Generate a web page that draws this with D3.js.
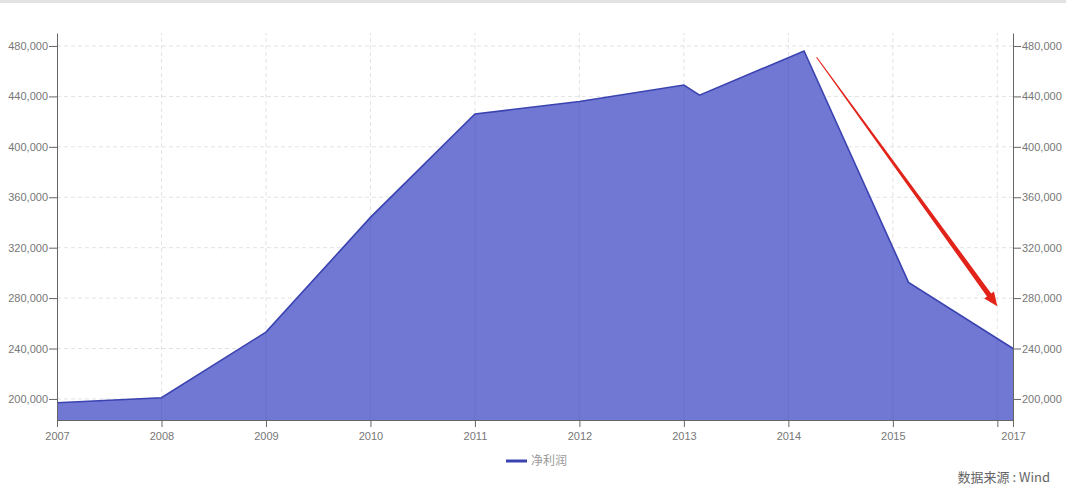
<!DOCTYPE html>
<html><head><meta charset="utf-8">
<script src="https://cdn.jsdelivr.net/npm/d3@7"></script>
<style>
html,body{margin:0;padding:0;background:#fff;}
svg{display:block;font-family:"Liberation Sans",Arial,sans-serif;}
</style></head>
<body>
<script>
// ---- data ----
const years = [2007, 2008, 2009, 2010, 2011, 2012, 2013, 2013.15, 2014.15, 2015.15, 2016.15];
const netProfit = [197000, 201000, 253000, 344000, 426000, 436000, 449000, 441000, 476000, 292500, 240000];
const seriesName = "净利润";
const yTicks = [200000, 240000, 280000, 320000, 360000, 400000, 440000, 480000];
const xTickValues = [2007, 2008, 2009, 2010, 2011, 2012, 2013, 2014, 2015, 2016, 2016.15];
const xTickLabels = ["2007", "2008", "2009", "2010", "2011", "2012", "2013", "2014", "2015", "", "2017"];
const gridYears = [2008, 2009, 2010, 2011, 2012, 2013, 2014, 2015, 2016];
const arrowFrom = [2014.27, 471000];
const arrowTo = [2016.0, 273500];
const sourceText = "数据来源 : Wind";

const W = 1066, H = 488;
const svg = d3.select("body").append("svg").attr("width", W).attr("height", H);

svg.append("rect").attr("x", 0).attr("y", 0).attr("width", W).attr("height", 3).attr("fill", "#e2e2e2");

const x = d3.scaleLinear().domain([2007, 2016.15]).range([57, 1013]);
const y = d3.scaleLinear().domain([183300, 490300]).range([420, 33]);

// grid
const grid = svg.append("g");
grid.selectAll("line.h").data(yTicks).join("line")
  .attr("x1", x.range()[0]).attr("x2", x.range()[1])
  .attr("y1", d => y(d)).attr("y2", d => y(d))
  .attr("stroke", "#e3e3e3").attr("stroke-dasharray", "4,3");
grid.selectAll("line.v").data(gridYears).join("line")
  .attr("x1", d => x(d)).attr("x2", d => x(d))
  .attr("y1", y.range()[0]).attr("y2", y.range()[1])
  .attr("stroke", "#e3e3e3").attr("stroke-dasharray", "4,3");

const pts = years.map((yr, i) => ({ x: yr, v: netProfit[i] }));

const area = d3.area().x(d => x(d.x)).y0(y.range()[0]).y1(d => y(d.v));
svg.append("path").datum(pts).attr("d", area).attr("fill", "#7078d4");

// faint grid lines visible through the fill (clipped to the area)
svg.append("clipPath").attr("id", "areaClip").append("path").datum(pts).attr("d", area);
svg.append("g").attr("clip-path", "url(#areaClip)")
  .selectAll("line").data(gridYears).join("line")
  .attr("x1", d => x(d)).attr("x2", d => x(d))
  .attr("y1", y.range()[0]).attr("y2", y.range()[1])
  .attr("stroke", "#3a3f80").attr("stroke-opacity", 0.12);

const line = d3.line().x(d => x(d.x)).y(d => y(d.v));
svg.append("path").datum(pts).attr("d", line).attr("fill", "none")
  .attr("stroke", "#3a43b0").attr("stroke-width", 1.6).attr("stroke-linejoin", "miter");

// axes
const fmt = d3.format(",");
function styleAxis(g) {
  g.selectAll("path.domain").attr("stroke", "#666");
  g.selectAll(".tick line").attr("stroke", "#666");
  g.selectAll("text").attr("fill", "#777").attr("font-size", 11)
    .attr("font-family", "'Liberation Sans', Arial, sans-serif");
}
const yl = svg.append("g").attr("transform", `translate(${x.range()[0]},0)`)
  .call(d3.axisLeft(y).tickValues(yTicks).tickFormat(fmt).tickSize(8).tickPadding(1).tickSizeOuter(0));
styleAxis(yl);
const yr = svg.append("g").attr("transform", `translate(${x.range()[1]},0)`)
  .call(d3.axisRight(y).tickValues(yTicks).tickFormat(fmt).tickSize(8).tickPadding(1).tickSizeOuter(0));
styleAxis(yr);
const xa = svg.append("g").attr("transform", `translate(0,${y.range()[0]})`)
  .call(d3.axisBottom(x).tickValues(xTickValues).tickFormat((d, i) => xTickLabels[i]).tickSize(7).tickPadding(5).tickSizeOuter(0));
styleAxis(xa);

// red arrow annotation (tapered)
const p0 = [x(arrowFrom[0]), y(arrowFrom[1])];
const p1 = [x(arrowTo[0]), y(arrowTo[1])];
const dx = p1[0] - p0[0], dy = p1[1] - p0[1];
const len = Math.hypot(dx, dy);
const ux = dx / len, uy = dy / len, nx = -uy, ny = ux;
const headLen = 14, headW = 6, w0 = 0.5, w1 = 2.6;
const b = [p1[0] - ux * headLen, p1[1] - uy * headLen];
const poly = [
  [p0[0] + nx * w0, p0[1] + ny * w0],
  [b[0] + nx * w1, b[1] + ny * w1],
  [b[0] + nx * headW, b[1] + ny * headW],
  p1,
  [b[0] - nx * headW, b[1] - ny * headW],
  [b[0] - nx * w1, b[1] - ny * w1],
  [p0[0] - nx * w0, p0[1] - ny * w0]
];
svg.append("path").attr("d", d3.line()(poly) + "Z").attr("fill", "#e2231a");

// legend
const lg = svg.append("g").attr("transform", "translate(506,461)");
lg.append("line").attr("x1", 0).attr("x2", 21).attr("y1", 0).attr("y2", 0)
  .attr("stroke", "#3a43b0").attr("stroke-width", 3);
lg.append("text").attr("x", 25).attr("y", 0).attr("dy", "0.35em").text(seriesName)
  .attr("font-size", 12).attr("fill", "#999").attr("font-family", "'Noto Sans CJK SC', sans-serif");

// source
svg.append("text").attr("x", 1050).attr("y", 477).attr("dy", "0.35em").attr("text-anchor", "end")
  .attr("font-size", 13).attr("fill", "#666").attr("font-family", "'Noto Sans CJK SC', sans-serif")
  .attr("xml:space", "preserve").style("white-space", "pre")
  .text(sourceText);
</script>
</body></html>
